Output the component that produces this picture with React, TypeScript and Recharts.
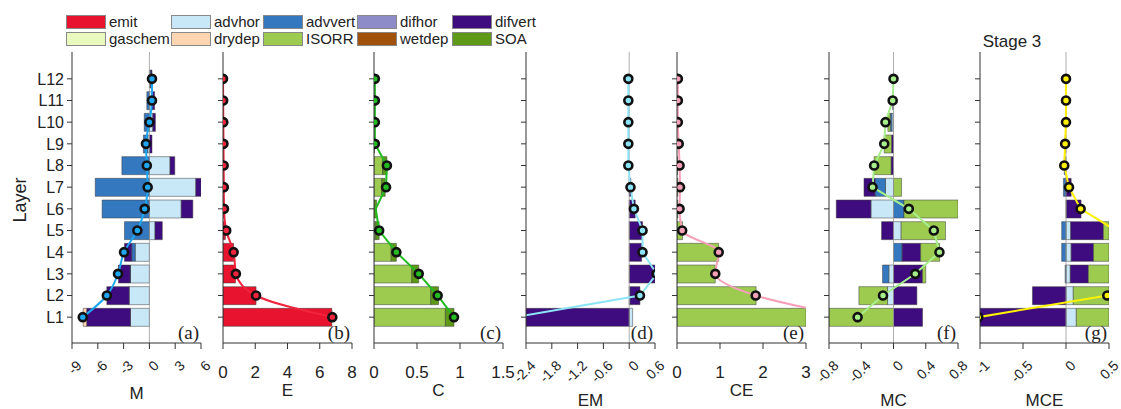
import { ComposedChart, Bar, Line, XAxis, YAxis, ReferenceLine } from 'recharts';

const layers = ['L1', 'L2', 'L3', 'L4', 'L5', 'L6', 'L7', 'L8', 'L9', 'L10', 'L11', 'L12'];

// (a) M
const mAdvhor = [-2.2, -2.35, -2.2, -1.65, 0.65, 3.7, 5.4, 2.4, -0.2, 0.4, 0.3, 0.1];
const mAdvvert = [0, 0, -0.05, -0.4, -2.9, -5.5, -6.3, -3.2, -0.5, -0.6, -0.3, 0.1];
const mDifvert = [-5.1, -2.6, -1.35, -0.85, 0.85, 1.35, 0.6, 0.55, 0.3, 0.3, 0.3, 0.1];
const mDrydep = [-0.4, 0, 0, 0, 0, 0, 0, 0, 0, 0, 0, 0];
const mNet = [-7.75, -4.95, -3.65, -2.95, -1.4, -0.55, -0.2, -0.3, -0.4, 0.0, 0.3, 0.3];

// (b) E
const eEmit = [6.75, 2.05, 0.78, 0.66, 0.15, 0.05, 0.04, 0.03, 0.02, 0.02, 0.01, 0];
const eNet = [6.78, 2.05, 0.8, 0.66, 0.2, 0.06, 0.05, 0.04, 0.03, 0.02, 0.01, 0];

// (c) C
const cIsorr = [0.83, 0.66, 0.44, 0.2, 0.02, 0, 0.09, 0.1, 0, 0, 0, 0];
const cSoa = [0.1, 0.09, 0.08, 0.06, 0.04, 0.03, 0.04, 0.05, 0.005, 0, 0, 0];
const cNet = [0.93, 0.74, 0.52, 0.26, 0.06, 0.02, 0.14, 0.15, 0.01, 0.01, 0.01, 0.01];

// (d) EM
const emAdvhor = [0.08, 0.02, 0, 0, 0, 0, 0, 0, 0, 0, 0, 0];
const emDifvert = [-2.75, 0.23, 0.66, 0.29, 0.31, 0.14, 0.04, 0, 0, 0, 0, 0];
const emNet = [-2.67, 0.25, 0.64, 0.31, 0.31, 0.11, 0.03, -0.02, -0.02, -0.02, -0.02, -0.02];

// (e) CE
const ceIsorr = [4.1, 1.84, 0.89, 0.97, 0.13, 0.02, 0.02, 0.01, 0, 0, 0, 0];
const ceNet = [4.08, 1.83, 0.89, 0.97, 0.12, 0.06, 0.07, 0.06, 0.04, 0.02, 0.02, 0.02];

// (f) MC
const mcAdvhor = [0, -0.074, -0.058, 0, 0.095, -0.28, -0.1, 0, 0, -0.02, 0, 0];
const mcAdvvert = [0, 0, -0.078, 0.107, 0, 0.13, -0.13, 0, 0, -0.02, -0.01, 0];
const mcDifvert = [0.36, 0.29, 0.36, 0.23, -0.148, -0.43, -0.136, -0.03, -0.025, 0, 0, 0];
const mcIsorr = [-0.81, -0.355, 0.04, 0.235, 0.55, 0.77, 0.1, -0.21, -0.09, -0.03, 0, 0];
const mcNet = [-0.445, -0.13, 0.27, 0.57, 0.5, 0.19, -0.26, -0.24, -0.115, -0.1, -0.01, 0];

// (g) MCE
const mceAdvhor = [0.12, 0.085, 0.05, 0.06, 0.055, 0.005, 0, 0, 0, 0, 0, 0];
const mceAdvvert = [0, 0, -0.01, -0.05, -0.05, 0, -0.03, -0.02, -0.01, 0, 0, 0];
const mceDifvert = [-1.6, -0.39, 0.21, 0.26, 0.38, 0.17, 0.06, 0, 0, 0, 0, 0];
const mceIsorr = [0.46, 0.785, 0.65, 0.53, 0.2, 0, 0, 0, 0, 0, 0, 0];
const mceNet = [-1.02, 0.48, 0.9, 0.8, 0.58, 0.17, 0.035, -0.02, -0.01, 0, 0, 0];

const legendRow1 = ['emit', 'advhor', 'advvert', 'difhor', 'difvert'];
const legendRow2 = ['gaschem', 'drydep', 'ISORR', 'wetdep', 'SOA'];

const colors: Record<string, string> = {
  emit: '#e8132e',
  advhor: '#c8e8f8',
  advvert: '#3478c0',
  difhor: '#8e8cc8',
  difvert: '#3e0c7e',
  gaschem: '#eaf9be',
  drydep: '#fdd5b0',
  ISORR: '#9dcb50',
  wetdep: '#a0520a',
  SOA: '#5e9a18',
};

type Panel = {
  tag: string;
  title: string;
  left: number;
  domain: [number, number];
  ticks: number[];
  rotate: boolean;
  lineColor: string;
  curve: 'monotone' | 'linear';
  zero: boolean;
  titleOffset: number;
  hideDot?: number;
  series: [string, number[]][];
  net: number[];
};

const panels: Panel[] = [
  {
    tag: '(a)', title: 'M', left: 72, domain: [-9, 6], ticks: [-9, -6, -3, 0, 3, 6], rotate: true,
    lineColor: '#1ea6f0', curve: 'monotone', zero: true, titleOffset: 10,
    series: [['advhor', mAdvhor], ['advvert', mAdvvert], ['difvert', mDifvert], ['drydep', mDrydep]], net: mNet,
  },
  {
    tag: '(b)', title: 'E', left: 223, domain: [0, 8], ticks: [0, 2, 4, 6, 8], rotate: false,
    lineColor: '#f0243c', curve: 'monotone', zero: false, titleOffset: 13,
    series: [['emit', eEmit]], net: eNet,
  },
  {
    tag: '(c)', title: 'C', left: 374, domain: [0, 1.5], ticks: [0, 0.5, 1, 1.5], rotate: false,
    lineColor: '#22bb22', curve: 'linear', zero: false, titleOffset: 13, hideDot: 5,
    series: [['ISORR', cIsorr], ['SOA', cSoa]], net: cNet,
  },
  {
    tag: '(d)', title: 'EM', left: 526, domain: [-2.4, 0.6], ticks: [-2.4, -1.8, -1.2, -0.6, 0, 0.6], rotate: true,
    lineColor: '#8de4f7', curve: 'linear', zero: true, titleOffset: 3,
    series: [['advhor', emAdvhor], ['difvert', emDifvert]], net: emNet,
  },
  {
    tag: '(e)', title: 'CE', left: 677, domain: [0, 3], ticks: [0, 1, 2, 3], rotate: false,
    lineColor: '#f5a0b8', curve: 'monotone', zero: false, titleOffset: 13,
    series: [['ISORR', ceIsorr]], net: ceNet,
  },
  {
    tag: '(f)', title: 'MC', left: 829, domain: [-0.8, 0.8], ticks: [-0.8, -0.4, 0, 0.4, 0.8], rotate: true,
    lineColor: '#a6ef8a', curve: 'linear', zero: true, titleOffset: 3,
    series: [['advhor', mcAdvhor], ['advvert', mcAdvvert], ['difvert', mcDifvert], ['ISORR', mcIsorr]], net: mcNet,
  },
  {
    tag: '(g)', title: 'MCE', left: 980, domain: [-1, 0.5], ticks: [-1, -0.5, 0, 0.5], rotate: true,
    lineColor: '#fff200', curve: 'linear', zero: true, titleOffset: 3,
    series: [['advhor', mceAdvhor], ['advvert', mceAdvvert], ['difvert', mceDifvert], ['ISORR', mceIsorr]], net: mceNet,
  },
];

const PLOT_W = 129;
const TOP = 40;
const CHART_H = 369;

const RotTick = (props: any) => {
  const { x, y, payload } = props;
  return (
    <text
      x={0}
      y={0}
      dy="0.35em"
      textAnchor="end"
      fontSize={14}
      fill="#222"
      transform={`translate(${x + 7},${y + 12}) rotate(-45)`}
    >
      {payload.value}
    </text>
  );
};

const NoTick = () => <g />;

function PanelChart({ p, first }: { p: Panel; first: boolean }) {
  const yW = first ? 72 : 20;
  const data = layers.map((layer, i) => {
    const row: Record<string, any> = { layer, net: p.net[i] };
    p.series.forEach(([k, vals]) => {
      row[k] = vals[i];
    });
    return row;
  });
  const chartLeft = p.left - yW;
  return (
    <div style={{ position: 'absolute', left: chartLeft, top: TOP }}>
      <ComposedChart
        layout="vertical"
        width={yW + PLOT_W + 16}
        height={CHART_H}
        data={data}
        stackOffset="sign"
        margin={{ top: 12, right: 16, left: 0, bottom: 0 }}
      >
        <XAxis
          type="number"
          domain={p.domain}
          ticks={p.ticks}
          allowDataOverflow
          interval={0}
          height={66}
          stroke="#333"
          tickSize={6}
          tickMargin={p.rotate ? 2 : 17}
          tick={p.rotate ? RotTick : { fontSize: 17, fill: '#222' }}
          label={{ value: p.title, position: 'insideBottom', offset: p.titleOffset, fontSize: 17, fill: '#222' }}
        />
        <XAxis
          xAxisId="top"
          orientation="top"
          type="number"
          domain={p.domain}
          allowDataOverflow
          height={0}
          stroke="#333"
          tick={NoTick}
          tickLine={false}
        />
        <YAxis
          type="category"
          dataKey="layer"
          reversed
          padding={{ top: 16, bottom: 15 }}
          width={yW}
          stroke="#333"
          tickSize={5}
          tickMargin={3}
          interval={0}
          tick={first ? { fontSize: 16, fill: '#222' } : NoTick}
        />
        <YAxis
          yAxisId="r"
          orientation="right"
          type="category"
          dataKey="layer"
          width={0}
          stroke="#333"
          tick={NoTick}
          tickLine={false}
        />
        {p.zero && <ReferenceLine x={0} stroke="#999" strokeWidth={0.8} />}
        {p.series.map(([k]) => (
          <Bar
            key={k}
            dataKey={k}
            stackId="s"
            fill={colors[k]}
            stroke="#3a3a3a"
            strokeWidth={0.5}
            barSize={18}
            isAnimationActive={false}
          />
        ))}
        <Line
          dataKey="net"
          type={p.curve}
          stroke={p.lineColor}
          strokeWidth={2}
          isAnimationActive={false}
          activeDot={false}
          dot={(d: any) =>
            d.index === p.hideDot ? (
              <g key={`d${d.index}`} />
            ) : (
              <circle key={`d${d.index}`} cx={d.cx} cy={d.cy} r={4} fill={p.lineColor} stroke="#111" strokeWidth={2.6} />
            )
          }
        />
      </ComposedChart>
      <div
        style={{
          position: 'absolute',
          left: yW + PLOT_W - 40,
          width: 38,
          top: 282,
          textAlign: 'right',
          fontFamily: '"Liberation Serif", serif',
          fontSize: 19,
          color: '#222',
        }}
      >
        {p.tag}
      </div>
    </div>
  );
}

function LegendRow({ items, top }: { items: string[]; top: number }) {
  const xs = [66, 171, 263, 357, 452];
  return (
    <>
      {items.map((k, i) => (
        <div key={k} style={{ position: 'absolute', left: xs[i], top, display: 'flex', alignItems: 'center' }}>
          <div style={{ width: 38, height: 12, background: colors[k], border: '1px solid #888' }} />
          <span style={{ marginLeft: 3, fontSize: 15, color: '#222', lineHeight: '14px' }}>{k}</span>
        </div>
      ))}
    </>
  );
}

export default function App() {
  return (
    <div
      style={{
        position: 'absolute',
        left: 0,
        top: 0,
        width: 1121,
        height: 409,
        overflow: 'hidden',
        background: '#fff',
        fontFamily: '"Liberation Sans", Arial, sans-serif',
      }}
    >
      <LegendRow items={legendRow1} top={15} />
      <LegendRow items={legendRow2} top={32} />
      <div style={{ position: 'absolute', left: 972, top: 32, width: 80, textAlign: 'center', fontSize: 17, color: '#222' }}>
        Stage 3
      </div>
      <div
        style={{
          position: 'absolute',
          left: 20,
          top: 200,
          fontSize: 18,
          color: '#222',
          transform: 'translate(-50%, -50%) rotate(-90deg)',
        }}
      >
        Layer
      </div>
      {panels.map((p, i) => (
        <PanelChart key={p.tag} p={p} first={i === 0} />
      ))}
    </div>
  );
}
